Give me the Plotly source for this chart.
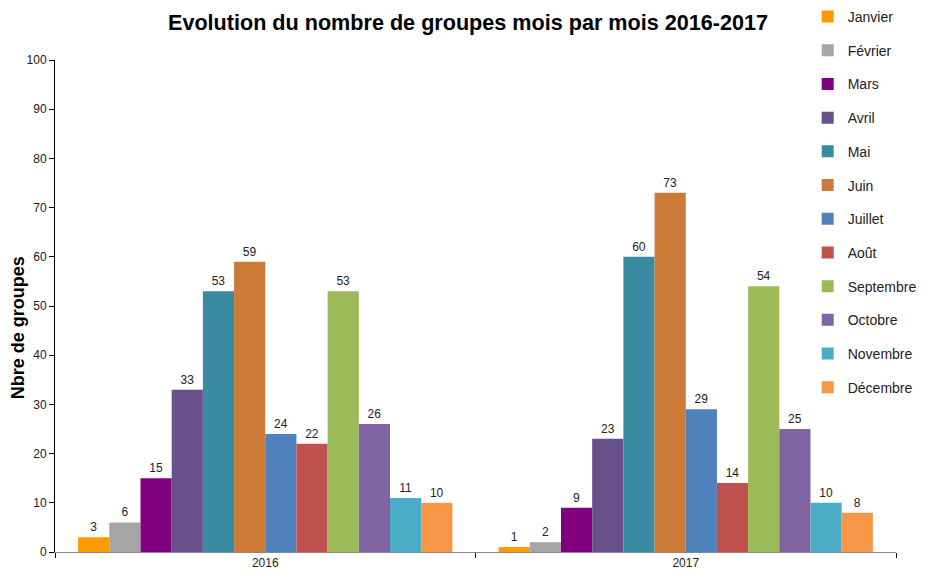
import plotly.graph_objects as go

years = ["2016", "2017"]
months = ["Janvier", "Février", "Mars", "Avril", "Mai", "Juin", "Juillet",
          "Août", "Septembre", "Octobre", "Novembre", "Décembre"]
values_2016 = [3, 6, 15, 33, 53, 59, 24, 22, 53, 26, 11, 10]
values_2017 = [1, 2, 9, 23, 60, 73, 29, 14, 54, 25, 10, 8]
colors = ["#FF9900", "#A5A5A5", "#800080", "#69508A", "#3A8BA1", "#CD7B38",
          "#4F81BD", "#C0504D", "#9BBB59", "#8064A2", "#4BACC6", "#F79646"]

fig = go.Figure()
for i, m in enumerate(months):
    vals = [values_2016[i], values_2017[i]]
    fig.add_trace(go.Bar(
        x=years, y=vals, name=m, legendgroup=m,
        marker=dict(color=colors[i], line=dict(width=0)),
        text=[str(v) for v in vals], textposition="outside",
        textfont=dict(size=12, color="#222222", family="Liberation Sans, Arial"),
        cliponaxis=False,
    ))

fig.update_layout(
    width=920, height=570,
    paper_bgcolor="white", plot_bgcolor="white",
    barmode="group", bargap=0.11, bargroupgap=0,
    margin=dict(l=47, r=32, t=52, b=26, autoexpand=False),
    font=dict(family="Liberation Sans, Arial", size=12, color="#222222"),
    title=dict(text="<b>Evolution du nombre de groupes mois par mois 2016-2017</b>",
               x=0.5, xanchor="center", y=0.9754, yanchor="middle",
               font=dict(size=21.6, color="#000000")),
    showlegend=True,
    legend=dict(x=0.895, xanchor="left", y=1.12, yanchor="top",
                traceorder="grouped", tracegroupgap=12.5, maxheight=560,
                font=dict(size=14, color="#222222"),
                bgcolor="rgba(0,0,0,0)", itemwidth=30),
    xaxis=dict(showline=True, linecolor="#888888", linewidth=1,
               ticks="outside", tickson="boundaries", ticklen=5, tickcolor="#000000",
               tickfont=dict(size=12), showgrid=False),
    yaxis=dict(range=[0, 100], dtick=10, showline=True, linecolor="#000000", linewidth=1,
               ticks="outside", ticklen=5, tickcolor="#000000", showgrid=False,
               zeroline=False, tickfont=dict(size=12)),
    annotations=[dict(text="<b>Nbre de groupes</b>", textangle=-90,
                      xref="paper", yref="paper", x=-0.044, y=0.457,
                      xanchor="center", yanchor="middle", showarrow=False,
                      font=dict(size=18, color="#000000"))],
)

fig.write_html("out.html")
